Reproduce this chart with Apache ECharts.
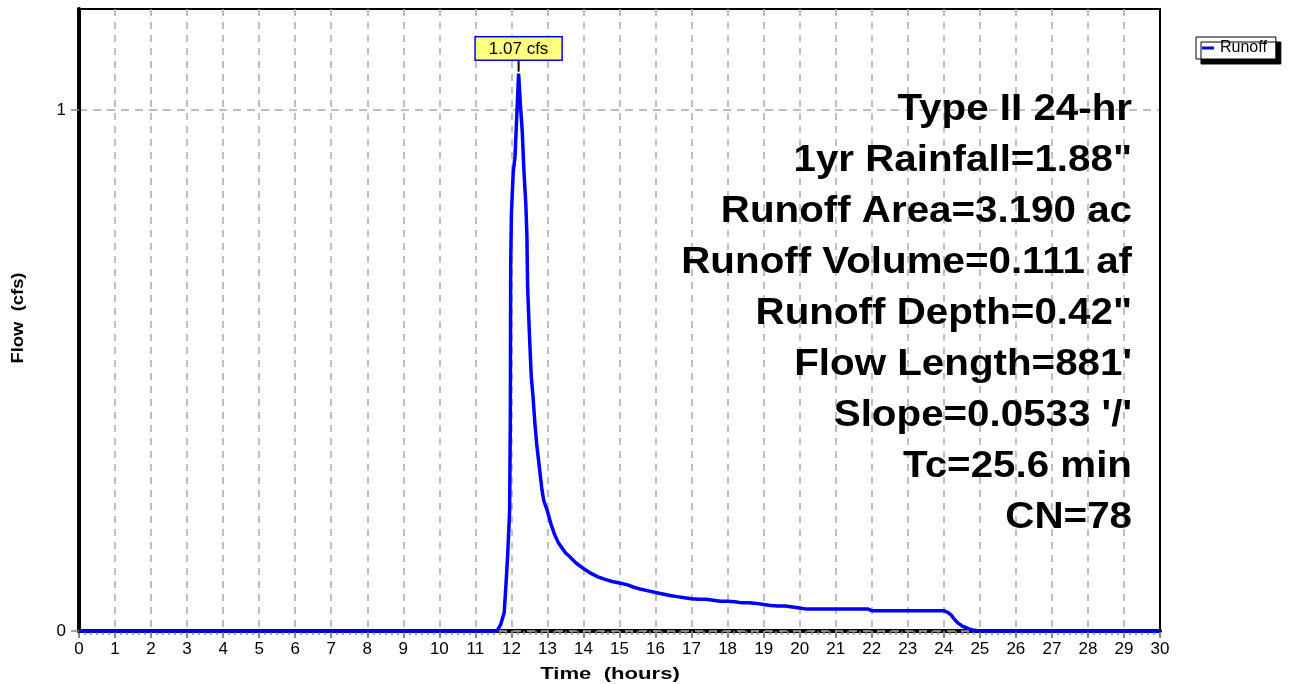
<!DOCTYPE html>
<html>
<head>
<meta charset="utf-8">
<title>Runoff hydrograph</title>
<script src="https://cdn.jsdelivr.net/npm/echarts@6.0.0/dist/echarts.min.js"></script>
<style>
  html, body { margin: 0; padding: 0; background: #fff; }
  #main { width: 1294px; height: 684px; }
</style>
</head>
<body>
<div id="main"></div>
<script>
// hydrograph: time (hours) and flow (cfs)
var times = [0, 11.5, 11.6, 11.7, 11.8, 11.85, 11.9, 11.95, 11.97, 11.98, 12.0, 12.05, 12.1, 12.2,
  12.25, 12.3, 12.35, 12.4, 12.43, 12.45, 12.5, 12.55, 12.6, 12.65, 12.7, 12.75, 12.8, 12.85, 12.9,
  13.0, 13.1, 13.2, 13.3, 13.4, 13.5, 13.6, 13.8, 14.0, 14.2, 14.4, 14.6, 14.8, 15.0, 15.2, 15.4,
  15.6, 15.8, 16.0, 16.2, 16.4, 16.6, 16.8, 17.0, 17.2, 17.4, 17.6, 17.8, 18.0, 18.2, 18.4, 18.6,
  18.8, 19.0, 19.2, 19.4, 19.6, 19.8, 20.0, 20.2, 21.9, 22.0, 24.0, 24.1, 24.2, 24.3, 24.4, 24.5,
  24.6, 24.7, 24.8, 24.9, 25.0, 30.0];
var flows = [0, 0, 0, 0.012, 0.035, 0.09, 0.15, 0.23, 0.40, 0.70, 0.80, 0.88, 0.91, 1.07,
  1.01, 0.96, 0.88, 0.82, 0.76, 0.66, 0.57, 0.49, 0.45, 0.40, 0.36, 0.33, 0.30, 0.27, 0.25,
  0.23, 0.205, 0.185, 0.17, 0.16, 0.15, 0.144, 0.13, 0.12, 0.111, 0.104, 0.099, 0.095, 0.092, 0.089, 0.084,
  0.080, 0.077, 0.074, 0.071, 0.068, 0.066, 0.064, 0.062, 0.061, 0.061, 0.059, 0.057, 0.057, 0.056, 0.054, 0.054,
  0.053, 0.051, 0.049, 0.048, 0.048, 0.046, 0.044, 0.042, 0.042, 0.039, 0.039, 0.036, 0.031, 0.022, 0.015, 0.010,
  0.007, 0.004, 0.002, 0.001, 0, 0];

var xTicks = [0, 30, 1];      // min, max, step (hours)
var yTicks = [0, 1];          // labelled flow ticks
var yMax = 1.194;

var peakTime = 12.2;
var peakFlow = 1.07;
var peakText = '1.07 cfs';

var infoLines = [
  'Type II 24-hr',
  '1yr Rainfall=1.88"',
  'Runoff Area=3.190 ac',
  'Runoff Volume=0.111 af',
  'Runoff Depth=0.42"',
  "Flow Length=881'",
  "Slope=0.0533 '/'",
  'Tc=25.6 min',
  'CN=78'
];

var font = 'Arial, "Liberation Sans", sans-serif';

var seriesData = times.map(function (t, i) {
  return [t, flows[i]];
});

// text block on the right of the plot (right aligned, a bit stretched like the original)
var graphics = infoLines.map(function (txt, i) {
  return {
    type: 'text',
    x: 1132,
    y: 110 + i * 51,
    scaleX: 1.12,
    z: 10,
    style: {
      text: txt,
      fill: '#000',
      font: 'bold 36px ' + font,
      textAlign: 'right',
      textVerticalAlign: 'middle'
    }
  };
});

// axis titles
graphics.push({
  type: 'text',
  x: 610,
  y: 674,
  scaleX: 1.3,
  style: {
    text: 'Time  (hours)',
    fill: '#000',
    font: 'bold 17px ' + font,
    textAlign: 'center',
    textVerticalAlign: 'middle'
  }
});
graphics.push({
  type: 'text',
  x: 19,
  y: 318,
  rotation: Math.PI / 2,
  scaleX: 1.15,
  style: {
    text: 'Flow  (cfs)',
    fill: '#000',
    font: 'bold 16px ' + font,
    textAlign: 'center',
    textVerticalAlign: 'middle'
  }
});

var chart = echarts.init(document.getElementById('main'));

var option = {
  animation: false,
  backgroundColor: '#fff',
  grid: {
    left: 79,
    right: 134,
    top: 9,
    bottom: 53
  },
  legend: {
    data: ['Runoff'],
    left: 1196,
    top: 37,
    icon: 'rect',
    itemWidth: 12,
    itemHeight: 3,
    itemGap: 4,
    padding: [3, 9, 3, 6],
    backgroundColor: '#fff',
    borderColor: '#000',
    borderWidth: 1,
    shadowColor: '#000',
    shadowBlur: 0,
    shadowOffsetX: 5,
    shadowOffsetY: 5,
    textStyle: { color: '#000', fontSize: 16, fontFamily: font, padding: [0, 0, 0, 1] }
  },
  xAxis: [
    {
      type: 'value',
      z: 1,
      min: xTicks[0],
      max: xTicks[1],
      interval: xTicks[2],
      axisLine: { show: true, onZero: false, lineStyle: { color: '#000', width: 4 } },
      axisTick: { show: true, length: 7, lineStyle: { color: '#888', width: 2 } },
      minorTick: { show: true, splitNumber: 6, length: 4, lineStyle: { color: '#888', width: 1.5 } },
      axisLabel: { color: '#000', fontSize: 17, margin: 10, fontFamily: font },
      splitLine: { show: true, lineStyle: { color: '#aaa', width: 1.5, type: [7, 6] } }
    },
    {
      // top frame line
      type: 'value',
      position: 'top',
      min: xTicks[0],
      max: xTicks[1],
      axisLine: { show: true, onZero: false, lineStyle: { color: '#000', width: 2 } },
      axisTick: { show: false },
      axisLabel: { show: false },
      splitLine: { show: false }
    }
  ],
  yAxis: [
    {
      type: 'value',
      z: 2,
      min: 0,
      max: yMax,
      axisLine: { show: true, onZero: false, lineStyle: { color: '#000', width: 4 } },
      axisTick: { show: true, length: 8, customValues: yTicks, lineStyle: { color: '#888', width: 1.5 } },
      axisLabel: { color: '#000', fontSize: 17, margin: 13, fontFamily: font, customValues: yTicks },
      splitLine: { show: true, lineStyle: { color: '#aaa', width: 1.5, type: [8, 6] } }
    },
    {
      // right frame line
      type: 'value',
      position: 'right',
      z: 2,
      min: 0,
      max: yMax,
      axisLine: { show: true, onZero: false, lineStyle: { color: '#000', width: 2 } },
      axisTick: { show: false },
      axisLabel: { show: false },
      splitLine: { show: false }
    }
  ],
  series: [
    {
      name: 'Runoff',
      type: 'line',
      data: seriesData,
      showSymbol: false,
      color: '#0000ff',
      lineStyle: { color: '#0000ff', width: 3.5 },
      z: 3,
      markPoint: {
        silent: true,
        data: [
          {
            coord: [peakTime, peakFlow],
            symbol: 'rect',
            symbolSize: [2, 12],
            symbolOffset: [0, -8],
            itemStyle: { color: '#000' },
            label: {
              show: true,
              position: 'top',
              distance: 0,
              formatter: peakText,
              color: '#000',
              fontSize: 17,
              fontFamily: font,
              backgroundColor: '#ffff80',
              borderColor: '#0000ff',
              borderWidth: 1.5,
              padding: [3, 13, 2, 13]
            }
          }
        ]
      }
    }
  ],
  graphic: graphics
};

chart.setOption(option);
</script>
</body>
</html>
